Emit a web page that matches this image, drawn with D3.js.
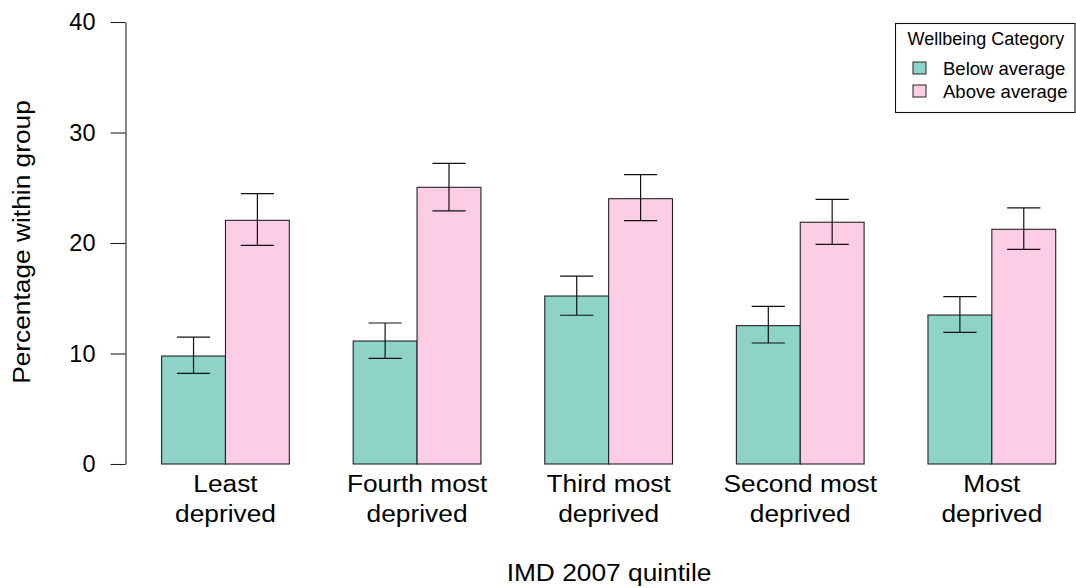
<!DOCTYPE html>
<html>
<head>
<meta charset="utf-8">
<script src="https://cdn.jsdelivr.net/npm/d3@7/dist/d3.min.js"></script>
<style>
  html, body { margin: 0; padding: 0; background: #fff; }
  svg { display: block; }
  text { font-family: "Liberation Sans", Arial, sans-serif; fill: #000; }
</style>
</head>
<body>
<svg id="chart" width="1076" height="588"></svg>
<script>
// Share of each IMD 2007 quintile in each wellbeing category, with confidence limits
const categories = ["Least\ndeprived", "Fourth most\ndeprived", "Third most\ndeprived", "Second most\ndeprived", "Most\ndeprived"];
const seriesNames = ["Below average", "Above average"];
const seriesColors = ["#8DD3C7", "#FCCDE5"];

const belowValues = [9.77, 11.13, 15.20, 12.52, 13.48];
const belowLower  = [8.21, 9.56, 13.46, 10.95, 11.92];
const belowUpper  = [11.48, 12.76, 17.01, 14.27, 15.14];

const aboveValues = [22.05, 25.04, 24.01, 21.88, 21.24];
const aboveLower  = [19.79, 22.90, 22.02, 19.88, 19.43];
const aboveUpper  = [24.46, 27.21, 26.18, 23.94, 23.17];

const yTicks = [0, 10, 20, 30, 40];
const xTitle = "IMD 2007 quintile";
const yTitle = "Percentage within group";
const legendTitle = "Wellbeing Category";

const seriesData = [
  { name: seriesNames[0], values: belowValues, lower: belowLower, upper: belowUpper },
  { name: seriesNames[1], values: aboveValues, lower: aboveLower, upper: aboveUpper }
];

const svg = d3.select("#chart");
const font = '"Liberation Sans", Arial, sans-serif';
const stretch = 1.12;   // slightly wide lettering for the axis text

const y = d3.scaleLinear().domain([0, 40]).range([464, 22]);
const x0 = d3.scaleBand().domain(categories).range([161.6, 1055.7]).paddingInner(1 / 3).paddingOuter(0);
const x1 = d3.scaleBand().domain(seriesNames).range([0, x0.bandwidth()]).padding(0);
const color = d3.scaleOrdinal().domain(seriesNames).range(seriesColors);

// bars
const rows = [];
categories.forEach((c, i) => {
  seriesData.forEach(s => {
    rows.push({ cat: c, series: s.name, v: s.values[i], lo: s.lower[i], hi: s.upper[i] });
  });
});

svg.append("g").selectAll("rect").data(rows).join("rect")
  .attr("x", d => x0(d.cat) + x1(d.series))
  .attr("y", d => y(d.v))
  .attr("width", x1.bandwidth())
  .attr("height", d => y(0) - y(d.v))
  .attr("fill", d => color(d.series))
  .attr("stroke", "#222")
  .attr("stroke-width", 1.1);

// error bars
const capHalf = x1.bandwidth() * 0.26;
const eb = svg.append("g").attr("stroke", "#111").attr("stroke-width", 1.2).attr("fill", "none");
rows.forEach(d => {
  const cx = x0(d.cat) + x1(d.series) + x1.bandwidth() / 2;
  eb.append("line").attr("x1", cx).attr("x2", cx).attr("y1", y(d.lo)).attr("y2", y(d.hi));
  eb.append("line").attr("x1", cx - capHalf).attr("x2", cx + capHalf).attr("y1", y(d.lo)).attr("y2", y(d.lo));
  eb.append("line").attr("x1", cx - capHalf).attr("x2", cx + capHalf).attr("y1", y(d.hi)).attr("y2", y(d.hi));
});

// y axis
const yAxis = d3.axisLeft(y).tickValues(yTicks).tickSize(15).tickSizeOuter(0).tickPadding(15);
const gy = svg.append("g").attr("transform", "translate(125.5,0)").call(yAxis);
gy.selectAll("path, line").attr("stroke", "#222").attr("stroke-width", 1.1);
gy.selectAll("text").attr("font-family", font).attr("font-size", 23.5).attr("fill", "#000");

// category labels (two lines each)
const xl = svg.append("g");
categories.forEach(c => {
  const cx = x0(c) + x0.bandwidth() / 2;
  c.split("\n").forEach((line, k) => {
    xl.append("g").attr("transform", `translate(${cx},${492 + k * 30}) scale(${stretch},1)`)
      .append("text").attr("text-anchor", "middle").attr("font-size", 23.5).text(line);
  });
});

// axis titles
svg.append("g").attr("transform", `translate(609,581) scale(${stretch},1)`)
  .append("text").attr("text-anchor", "middle").attr("font-size", 23.5).text(xTitle);
svg.append("g").attr("transform", `translate(30,242) rotate(-90) scale(${stretch},1)`)
  .append("text").attr("text-anchor", "middle").attr("font-size", 23.5).text(yTitle);

// legend
const lg = svg.append("g");
lg.append("rect").attr("x", 895.5).attr("y", 23.5).attr("width", 179.5).attr("height", 89)
  .attr("fill", "#fff").attr("stroke", "#111").attr("stroke-width", 1.1);
lg.append("text").attr("x", 986).attr("y", 45).attr("text-anchor", "middle").attr("font-size", 18).text(legendTitle);
const rowY = [68, 91];
seriesNames.forEach((n, i) => {
  lg.append("rect").attr("x", 913).attr("y", rowY[i] - 6).attr("width", 13).attr("height", 12)
    .attr("fill", color(n)).attr("stroke", "#222").attr("stroke-width", 1);
  lg.append("text").attr("x", 943).attr("y", rowY[i] + 6.5).attr("font-size", 18.5).text(n);
});
</script>
</body>
</html>
